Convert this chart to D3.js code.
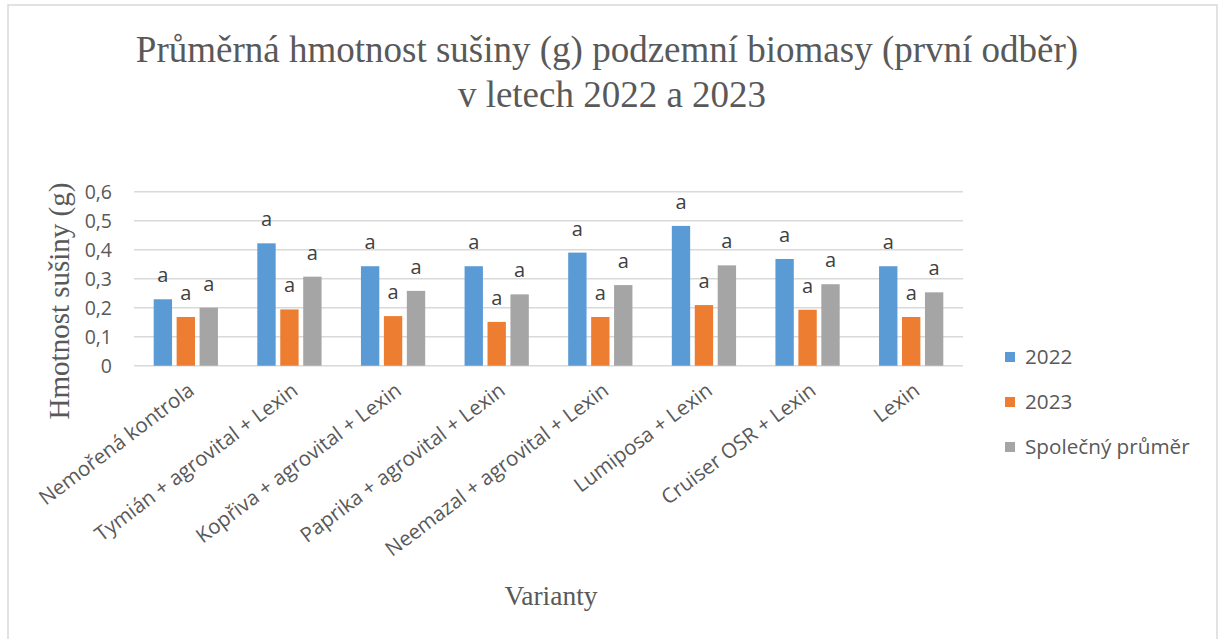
<!DOCTYPE html>
<html>
<head>
<meta charset="utf-8">
<script src="https://cdn.jsdelivr.net/npm/d3@7"></script>
<style>
body { margin: 0; background: #fff; }
.axis text { font-family: "Open Sans", sans-serif; fill: #595959; }
</style>
</head>
<body>
<div id="chart"></div>
<script>
//== DATA ================================================//
var categories = ["Nemořená kontrola", "Tymián + agrovital + Lexin", "Kopřiva + agrovital + Lexin",
    "Paprika + agrovital + Lexin", "Neemazal + agrovital + Lexin", "Lumiposa + Lexin",
    "Cruiser OSR + Lexin", "Lexin"];
var series = ["2022", "2023", "Společný průměr"];
var v2022 = [0.229, 0.422, 0.343, 0.343, 0.390, 0.482, 0.368, 0.343];
var v2023 = [0.168, 0.194, 0.171, 0.151, 0.168, 0.209, 0.193, 0.168];
var vAvg = [0.200, 0.307, 0.258, 0.246, 0.278, 0.346, 0.281, 0.253];
var letters = ["a", "a", "a"];
var yTicks = [0, 0.1, 0.2, 0.3, 0.4, 0.5, 0.6];

var colors = ["#5B9BD5", "#ED7D31", "#A5A5A5"];
var values = [v2022, v2023, vAvg];

var W = 1223, H = 639;
var margin = { top: 191.7, left: 134, right: 260, bottom: 273.3 };
var width = W - margin.left - margin.right,
    height = H - margin.top - margin.bottom;

var svg = d3.select("#chart").append("svg")
    .attr("width", W)
    .attr("height", H);

// frame
svg.append("rect")
    .attr("x", 8).attr("y", 5)
    .attr("width", 1209).attr("height", 640)
    .attr("fill", "#fff")
    .attr("stroke", "#D9D9D9")
    .attr("stroke-width", 1.5);

// title
var title = svg.append("text")
    .attr("text-anchor", "middle")
    .attr("font-family", "'Liberation Serif', serif")
    .attr("font-size", 37)
    .attr("fill", "#595959");
title.append("tspan").attr("x", 607).attr("y", 62)
    .text("Průměrná hmotnost sušiny (g) podzemní biomasy (první odběr)");
title.append("tspan").attr("x", 612).attr("y", 107)
    .text("v letech 2022 a 2023");

var g = svg.append("g")
    .attr("transform", "translate(" + margin.left + "," + margin.top + ")");

// scales
var x0 = d3.scaleBand().domain(categories).range([0, width]).padding(0);
var x1 = d3.scaleBand().domain(series)
    .range([x0.bandwidth() * 0.19, x0.bandwidth() * 0.81])
    .paddingInner(0.2);
var y = d3.scaleLinear().domain([0, 0.6]).range([height, 0]);

// gridlines
g.append("g")
    .selectAll("line")
    .data(yTicks)
    .join("line")
    .attr("x1", 0).attr("x2", width)
    .attr("y1", function (d) { return y(d); })
    .attr("y2", function (d) { return y(d); })
    .attr("stroke", "#D9D9D9")
    .attr("stroke-width", 1.5);

// Y axis
var yAxis = g.append("g")
    .attr("class", "axis")
    .call(d3.axisLeft(y).tickValues(yTicks).tickSize(0).tickPadding(22)
        .tickFormat(function (d) { return d === 0 ? "0" : d3.format(".1f")(d).replace(".", ","); }));
yAxis.select(".domain").remove();
yAxis.selectAll("text").attr("font-size", 19.5).attr("dy", "0.35em");

// bars
var groups = g.selectAll(".grp")
    .data(categories)
    .join("g")
    .attr("class", "grp")
    .attr("transform", function (d) { return "translate(" + x0(d) + ",0)"; });

series.forEach(function (s, si) {
    groups.append("rect")
        .attr("x", x1(s))
        .attr("width", x1.bandwidth())
        .attr("y", function (d, i) { return y(values[si][i]); })
        .attr("height", function (d, i) { return height - y(values[si][i]); })
        .attr("fill", colors[si]);
    groups.append("text")
        .attr("x", x1(s) + x1.bandwidth() / 2)
        .attr("y", function (d, i) { return y(values[si][i]) - 17; })
        .attr("text-anchor", "middle")
        .attr("font-family", "'Open Sans', sans-serif")
        .attr("font-size", 20)
        .attr("fill", "#404040")
        .text(letters[si]);
});

// X axis labels
var xAxis = g.append("g")
    .attr("class", "axis")
    .attr("transform", "translate(0," + height + ")")
    .call(d3.axisBottom(x0).tickSize(0));
xAxis.select(".domain").remove();
xAxis.selectAll("text")
    .attr("font-size", 20.5)
    .attr("text-anchor", "end")
    .attr("dy", "0")
    .attr("transform", "translate(8,25) rotate(-37)");

// axis titles
svg.append("text")
    .attr("text-anchor", "middle")
    .attr("font-family", "'Liberation Serif', serif")
    .attr("font-size", 29)
    .attr("fill", "#595959")
    .attr("transform", "translate(69,301) rotate(-90)")
    .text("Hmotnost sušiny (g)");

svg.append("text")
    .attr("text-anchor", "middle")
    .attr("font-family", "'Liberation Serif', serif")
    .attr("font-size", 27.5)
    .attr("fill", "#595959")
    .attr("x", 551).attr("y", 605)
    .text("Varianty");

// legend
var legend = svg.append("g").attr("transform", "translate(1005,357)");
var items = legend.selectAll("g")
    .data(series)
    .join("g")
    .attr("transform", function (d, i) { return "translate(0," + i * 45 + ")"; });
items.append("rect")
    .attr("x", 0).attr("y", -5)
    .attr("width", 10).attr("height", 10)
    .attr("fill", function (d, i) { return colors[i]; });
items.append("text")
    .attr("x", 20)
    .attr("dy", "0.35em")
    .attr("font-family", "'Open Sans', sans-serif")
    .attr("font-size", 20.7)
    .attr("fill", "#595959")
    .text(function (d) { return d; });
</script>
</body>
</html>
